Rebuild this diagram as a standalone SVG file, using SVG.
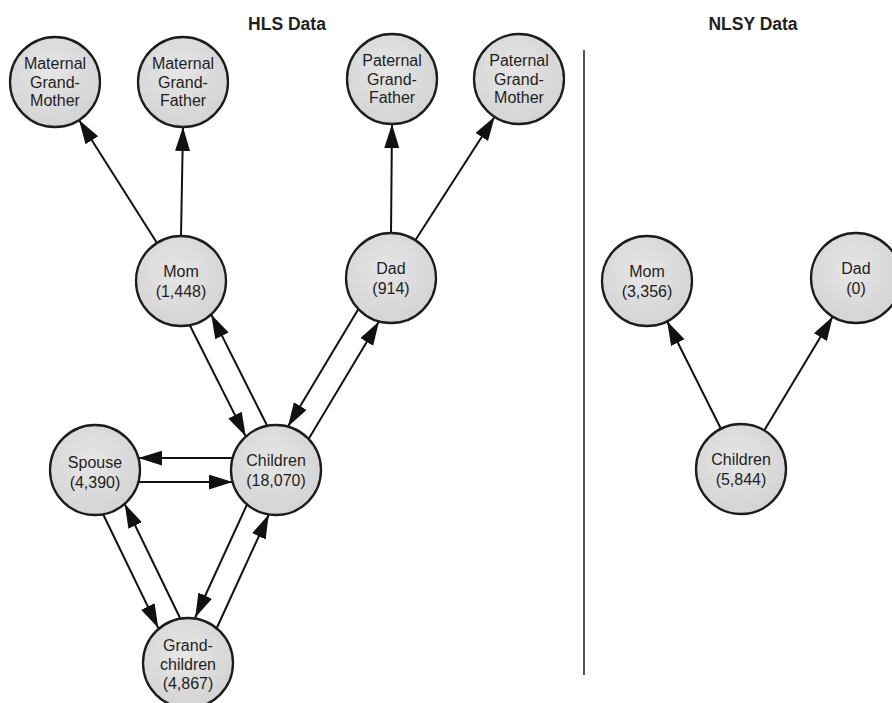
<svg xmlns="http://www.w3.org/2000/svg" width="892" height="703" viewBox="0 0 892 703">
<style>
.node circle{fill:url(#g);stroke:#1c1c1c;stroke-width:2.3}
.node text{font-family:"Liberation Sans",Arial,sans-serif;font-size:16px;fill:#1e1e1e;text-anchor:middle}
.title{font-family:"Liberation Sans",Arial,sans-serif;font-size:17.5px;font-weight:bold;fill:#222;text-anchor:middle}
#edges line{stroke:#111;stroke-width:2;marker-end:url(#arr)}
</style>
<defs>
<radialGradient id="g" cx="0.45" cy="0.4" r="0.65">
<stop offset="0" stop-color="#e6e6e6"/>
<stop offset="1" stop-color="#d2d2d2"/>
</radialGradient>
<marker id="arr" markerUnits="userSpaceOnUse" markerWidth="26" markerHeight="16" refX="24" refY="7.5" orient="auto">
<path d="M0,0 L24,7.5 L0,15 z" fill="#111"/>
</marker>
</defs>
<rect width="892" height="703" fill="#fff"/>
<text class="title" x="287" y="30">HLS Data</text>
<text class="title" x="753" y="30">NLSY Data</text>
<line x1="584" y1="50" x2="584" y2="675" stroke="#444" stroke-width="1.8"/>
<g id="edges">
<line x1="157" y1="243" x2="79" y2="120"/>
<line x1="181" y1="236" x2="183" y2="127"/>
<line x1="391" y1="233" x2="392" y2="124"/>
<line x1="415.3" y1="240.2" x2="494.7" y2="116.8"/>
<line x1="189.8" y1="325.2" x2="245.8" y2="436.6"/>
<line x1="267.2" y1="425.8" x2="211.2" y2="314.4"/>
<line x1="358.4" y1="309" x2="288" y2="426.6"/>
<line x1="308.6" y1="439" x2="379" y2="321.4"/>
<line x1="232.6" y1="458" x2="138.4" y2="458"/>
<line x1="138.4" y1="482" x2="232.6" y2="482"/>
<line x1="103.1" y1="514.3" x2="158.3" y2="628.1"/>
<line x1="179.9" y1="617.7" x2="124.7" y2="503.9"/>
<line x1="247" y1="504.5" x2="195.2" y2="617.5"/>
<line x1="217" y1="627.5" x2="268.8" y2="514.5"/>
<line x1="720.9" y1="428.8" x2="667.1" y2="321.2"/>
<line x1="764.2" y1="430.4" x2="832.8" y2="316.6"/>
</g>
<g id="mgm" class="node"><circle cx="55" cy="82" r="45"/><text x="55" y="69">Maternal</text><text x="55" y="88">Grand-</text><text x="55" y="106">Mother</text></g>
<g id="mgf" class="node"><circle cx="183" cy="82" r="45"/><text x="183" y="69">Maternal</text><text x="183" y="88">Grand-</text><text x="183" y="106">Father</text></g>
<g id="pgf" class="node"><circle cx="392" cy="79" r="45"/><text x="392" y="66">Paternal</text><text x="392" y="85">Grand-</text><text x="392" y="103">Father</text></g>
<g id="pgm" class="node"><circle cx="519" cy="79" r="45"/><text x="519" y="66">Paternal</text><text x="519" y="85">Grand-</text><text x="519" y="103">Mother</text></g>
<g id="mom" class="node"><circle cx="181" cy="281" r="45"/><text x="181" y="277">Mom</text><text x="181" y="297">(1,448)</text></g>
<g id="dad" class="node"><circle cx="391" cy="278" r="45"/><text x="391" y="274">Dad</text><text x="391" y="294">(914)</text></g>
<g id="children" class="node"><circle cx="276" cy="470" r="45"/><text x="276" y="466">Children</text><text x="276" y="486">(18,070)</text></g>
<g id="spouse" class="node"><circle cx="95" cy="470" r="45"/><text x="95" y="468">Spouse</text><text x="95" y="488">(4,390)</text></g>
<g id="grandchildren" class="node"><circle cx="188" cy="663" r="45"/><text x="188" y="651">Grand-</text><text x="188" y="670">children</text><text x="188" y="689">(4,867)</text></g>
<g id="nlsy-mom" class="node"><circle cx="647" cy="281" r="45"/><text x="647" y="277">Mom</text><text x="647" y="297">(3,356)</text></g>
<g id="nlsy-dad" class="node"><circle cx="856" cy="278" r="45"/><text x="856" y="274">Dad</text><text x="856" y="294">(0)</text></g>
<g id="nlsy-children" class="node"><circle cx="741" cy="469" r="45"/><text x="741" y="465">Children</text><text x="741" y="485">(5,844)</text></g>
</svg>
